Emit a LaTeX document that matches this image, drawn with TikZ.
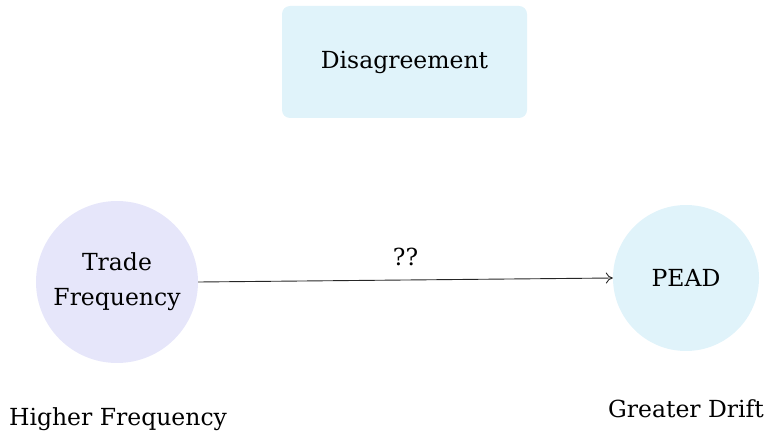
\documentclass[tikz,border=0pt]{standalone}
\usepackage{fontspec}
\setmainfont{DejaVu Serif}
\usetikzlibrary{arrows.meta}
\definecolor{boxblue}{HTML}{E0F3FA}
\definecolor{lav}{HTML}{E6E6FA}
\begin{document}
\begin{tikzpicture}[x=1pt,y=-1pt,
  lbl/.style={font=\fontsize{23.5}{35}\selectfont, text=black, align=center},
  circ/.style={circle, draw=none, inner sep=0pt},
  con/.style={-{To[length=7pt,width=11pt]}, line width=0.9pt, draw=black!85}]
\useasboundingbox (0,0) rectangle (767,438);
\node[fill=boxblue, rounded corners=8pt, minimum width=245pt, minimum height=112pt, lbl] (dis) at (404.5,62) {Disagreement};
\node[circ, fill=lav, minimum size=162pt, lbl] (tf) at (117,282) {Trade\\Frequency};
\node[circ, fill=boxblue, minimum size=146pt, lbl] (pead) at (686,278) {PEAD};
\draw[con] (tf.east) -- (pead.west) node[midway, above=10pt, lbl] (q) {??};
\node[lbl] (hf) at (118,419) {Higher Frequency};
\node[lbl] (gd) at (686,409) {Greater Drift};
\end{tikzpicture}
\end{document}
